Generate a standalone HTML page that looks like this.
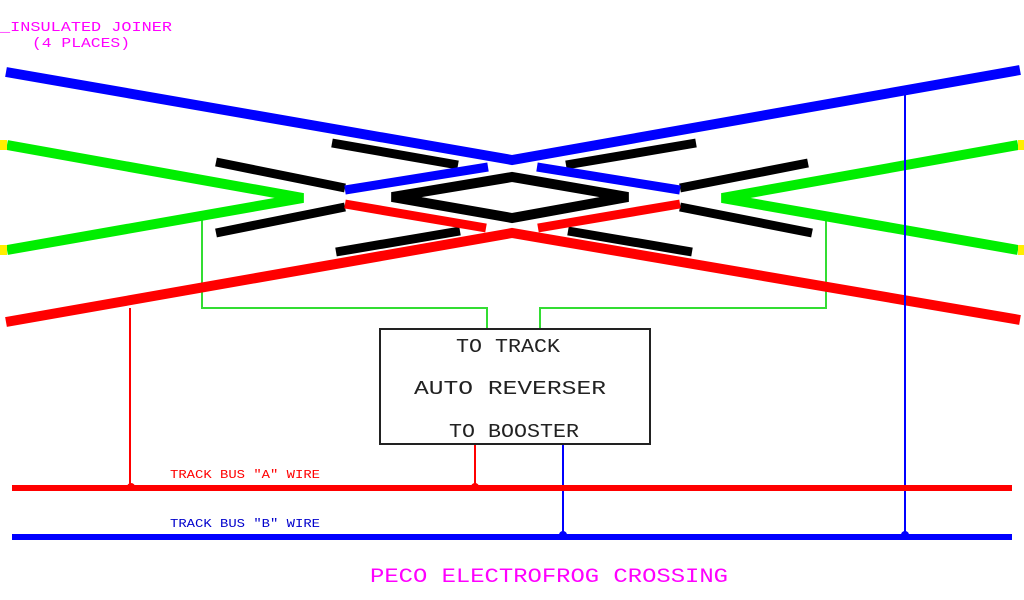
<!DOCTYPE html>
<html><head><meta charset="utf-8"><style>
html,body{margin:0;padding:0;background:#fff;width:1024px;height:600px;overflow:hidden}
svg{display:block}
text{font-family:"Liberation Mono","DejaVu Sans Mono",monospace}
</style></head><body>
<svg width="1024" height="600" viewBox="0 0 1024 600" xmlns="http://www.w3.org/2000/svg">
<!-- labels -->
<text x="0" y="31" font-size="14" fill="#ff00ff" textLength="172" lengthAdjust="spacingAndGlyphs">_INSULATED JOINER</text>
<text x="32" y="47" font-size="14" fill="#ff00ff" textLength="98" lengthAdjust="spacingAndGlyphs">(4 PLACES)</text>

<!-- green wires thin -->
<polyline points="202,218 202,308 487,308 487,328" fill="none" stroke="#33dd33" stroke-width="2"/>
<polyline points="826,218 826,308 540,308 540,328" fill="none" stroke="#33dd33" stroke-width="2"/>

<!-- black rails -->
<g stroke="#000" stroke-width="9" fill="none" stroke-linecap="butt">
<line x1="216" y1="162" x2="345" y2="188"/>
<line x1="332" y1="143" x2="458" y2="165"/>
<line x1="566" y1="165" x2="696" y2="143"/>
<line x1="680" y1="188" x2="808" y2="163"/>
<line x1="216" y1="233" x2="345" y2="207"/>
<line x1="336" y1="252" x2="460" y2="231"/>
<line x1="568" y1="231" x2="692" y2="252"/>
<line x1="680" y1="207" x2="812" y2="233"/>
<polygon points="392,197 512,177 628,197 512,218" stroke-width="10" stroke-linejoin="miter"/>
</g>

<!-- main rails -->
<polyline points="6,72 512,160 1020,70" fill="none" stroke="#0000ff" stroke-width="10"/>
<polyline points="6,322 512,233 1020,320" fill="none" stroke="#ff0000" stroke-width="10"/>
<polyline points="7,145 303,198 7,250" fill="none" stroke="#00ee00" stroke-width="10"/>
<polyline points="1018,145 722,198 1018,250" fill="none" stroke="#00ee00" stroke-width="10"/>
<rect x="0" y="140" width="7" height="10" fill="#ffee00"/>
<rect x="0" y="245" width="7" height="10" fill="#ffee00"/>
<rect x="1018" y="140" width="6" height="10" fill="#ffee00"/>
<rect x="1018" y="245" width="6" height="10" fill="#ffee00"/>

<!-- inner rails -->
<line x1="345" y1="190" x2="488" y2="167" stroke="#0000ff" stroke-width="9"/>
<line x1="537" y1="167" x2="680" y2="190" stroke="#0000ff" stroke-width="9"/>
<line x1="345" y1="204" x2="486" y2="228" stroke="#ff0000" stroke-width="9"/>
<line x1="538" y1="228" x2="680" y2="204" stroke="#ff0000" stroke-width="9"/>

<!-- feeder wires -->
<line x1="130" y1="308" x2="130" y2="488" stroke="#ff0000" stroke-width="2"/>
<line x1="475" y1="444" x2="475" y2="488" stroke="#ff0000" stroke-width="2"/>
<line x1="563" y1="444" x2="563" y2="537" stroke="#0000ff" stroke-width="2"/>
<line x1="905" y1="88" x2="905" y2="537" stroke="#0000ff" stroke-width="2"/>

<!-- box -->
<rect x="380" y="329" width="270" height="115" fill="#fff" stroke="#222" stroke-width="2"/>
<text x="456" y="352" font-size="19" fill="#222" textLength="104" lengthAdjust="spacingAndGlyphs">TO TRACK</text>
<text x="414" y="394" font-size="19" fill="#222" textLength="192" lengthAdjust="spacingAndGlyphs">AUTO REVERSER</text>
<text x="449" y="437" font-size="19" fill="#222" textLength="130" lengthAdjust="spacingAndGlyphs">TO BOOSTER</text>

<!-- buses -->
<line x1="12" y1="488" x2="1012" y2="488" stroke="#ff0000" stroke-width="6"/>
<line x1="12" y1="537" x2="1012" y2="537" stroke="#0000ff" stroke-width="6"/>
<circle cx="131" cy="487" r="4" fill="#ff0000"/>
<circle cx="475" cy="487" r="4" fill="#ff0000"/>
<circle cx="563" cy="535" r="4" fill="#0000ff"/>
<circle cx="905" cy="535" r="4" fill="#0000ff"/>
<text x="170" y="478" font-size="12" fill="#ff0000" textLength="150" lengthAdjust="spacingAndGlyphs">TRACK BUS "A" WIRE</text>
<text x="170" y="527" font-size="12" fill="#0000cc" textLength="150" lengthAdjust="spacingAndGlyphs">TRACK BUS "B" WIRE</text>

<text x="370" y="582" font-size="20" fill="#ff00ff" textLength="358" lengthAdjust="spacingAndGlyphs">PECO ELECTROFROG CROSSING</text>
</svg>
</body></html>
